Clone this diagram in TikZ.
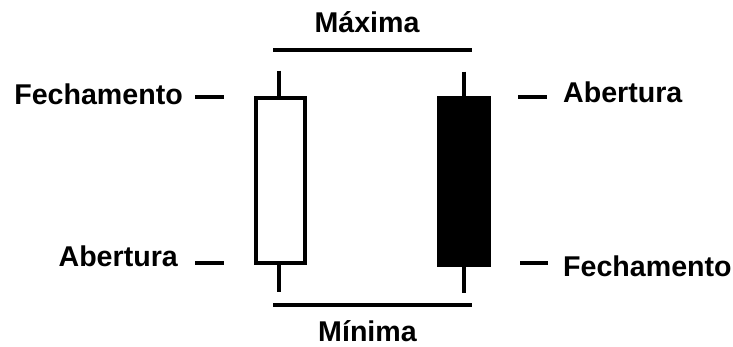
\documentclass[tikz,border=0pt]{standalone}
\usepackage{fontspec}
\setmainfont{Liberation Sans}
\begin{document}
\begin{tikzpicture}[x=1pt,y=-1pt,
  lbl/.style={inner sep=0pt,font=\fontsize{28.6}{31}\selectfont\bfseries},
  bar/.style={line width=4.5pt},
  tick/.style={line width=4pt},
  wick/.style={line width=4.5pt},
  whitebox/.style={draw=black,fill=white,line width=4pt,minimum width=48.7pt,minimum height=165pt,inner sep=0pt},
  blackbox/.style={draw=black,fill=black,line width=0pt,minimum width=52.7pt,minimum height=170pt,inner sep=0pt}]
\useasboundingbox (0,0) rectangle (733,347);
% candles
\node[whitebox] (wb) at (280.3,180.5) {};
\node[blackbox] (bb) at (464.3,181.7) {};
\coordinate (wtop) at (279,70.7);
\coordinate (wbot) at (279,291.7);
\coordinate (btop) at (464,71.7);
\coordinate (bbot) at (464,292.7);
\draw[wick] (wtop) -- (wtop |- wb.north);
\draw[wick] (wb.south -| wbot) -- (wbot);
\draw[wick] (btop) -- (btop |- bb.north);
\draw[wick] (bb.south -| bbot) -- (bbot);
% max / min bars
\coordinate (maxl) at (273,50);
\coordinate (maxr) at (472,50);
\coordinate (minl) at (273,305);
\coordinate (minr) at (472,305);
\draw[bar] (maxl) -- (maxr);
\draw[bar] (minl) -- (minr);
\node[lbl,anchor=base] (max) at (367,32.7) {Máxima};
\node[lbl,anchor=base] (min) at (367.5,341) {Mínima};
% left labels
\node[lbl,anchor=base east] (lf) at (183,105) {Fechamento};
\node[lbl,anchor=base east] (la) at (178,266.7) {Abertura};
\coordinate (lf1) at (195,96.7); \coordinate (lf2) at (224,96.7);
\coordinate (la1) at (195,263.3); \coordinate (la2) at (224,263.3);
\draw[tick] (lf1) -- (lf2);
\draw[tick] (la1) -- (la2);
% right labels
\node[lbl,anchor=base west] (ra) at (563,103) {Abertura};
\node[lbl,anchor=base west] (rf) at (563,276.7) {Fechamento};
\coordinate (ra1) at (518,96.7); \coordinate (ra2) at (547,96.7);
\coordinate (rf1) at (520,263.3); \coordinate (rf2) at (548,263.3);
\draw[tick] (ra1) -- (ra2);
\draw[tick] (rf1) -- (rf2);
\end{tikzpicture}
\end{document}
